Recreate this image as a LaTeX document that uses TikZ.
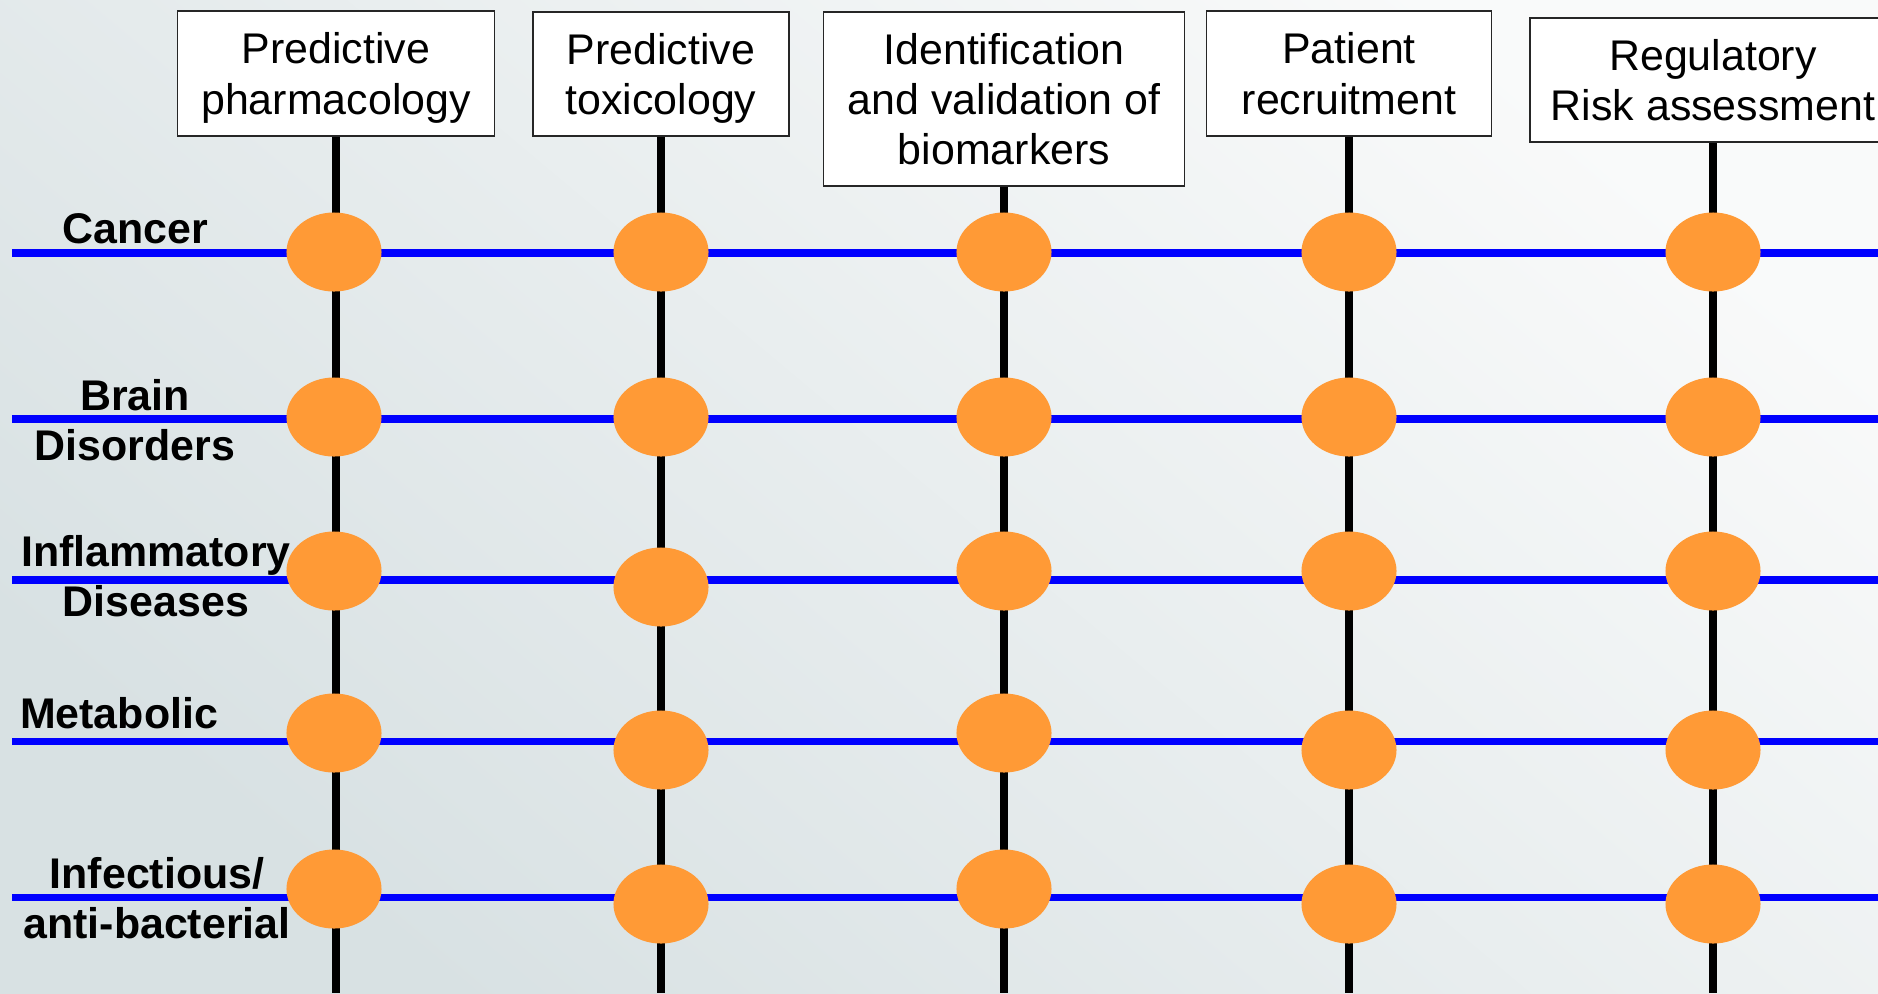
\documentclass[tikz,border=0pt]{standalone}
\usepackage{fontspec}
\setmainfont{Liberation Sans}
\usetikzlibrary{shapes.geometric}

\definecolor{dotorange}{HTML}{FF9A36}
\definecolor{bgdark}{HTML}{D8E1E3}
\definecolor{bglight}{HTML}{F9FAFA}

\tikzstyle{stage} = [rectangle, draw = black!85, line width = 0.5pt, fill = white, align = center, inner sep = 0pt, text depth = 0pt, font = \fontsize{12.2}{14.3}\selectfont]
\tikzstyle{disease} = [align = center, inner sep = 0pt, font = \bfseries\fontsize{12.2}{14.3}\selectfont]
\tikzstyle{dot} = [ellipse, fill = dotorange, minimum width = 0.95cm, minimum height = 0.79cm, inner sep = 0pt]
\tikzstyle{stemline} = [line width = 2.1pt, black]
\tikzstyle{rowline} = [line width = 2pt, blue]

\begin{document}
\begin{tikzpicture}[x=0.01cm, y=-0.01cm]
	\shade[top color = bglight, bottom color = bgdark, shading angle = -40] (0,0) rectangle (1878,993);
	\useasboundingbox (0,0) rectangle (1878,993);
	\clip (0,0) rectangle (1878,993);

	% stages along the top
	\node (pharm) [stage, minimum width = 3.17cm, minimum height = 1.25cm] at (336,73.5) {Predictive\\pharmacology};
	\node (tox) [stage, minimum width = 2.56cm, minimum height = 1.24cm] at (661,74) {Predictive\\toxicology};
	\node (biom) [stage, minimum width = 3.61cm, minimum height = 1.74cm] at (1004,99) {Identification\\and validation of\\biomarkers};
	\node (recruit) [stage, minimum width = 2.85cm, minimum height = 1.25cm] at (1349,73.5) {Patient\\recruitment};
	\node (regul) [stage, minimum width = 3.66cm, minimum height = 1.24cm] at (1713,80) {Regulatory\\Risk assessment};

	\coordinate (pharm-foot) at (336,993);
	\coordinate (tox-foot) at (661,993);
	\coordinate (biom-foot) at (1004,993);
	\coordinate (recruit-foot) at (1349,993);
	\coordinate (regul-foot) at (1713,993);

	\coordinate (cancer-start) at (12,253);
	\coordinate (cancer-end) at (1878,253);
	\coordinate (brain-start) at (12,419);
	\coordinate (brain-end) at (1878,419);
	\coordinate (inflam-start) at (12,580);
	\coordinate (inflam-end) at (1878,580);
	\coordinate (metab-start) at (12,741);
	\coordinate (metab-end) at (1878,741);
	\coordinate (infect-start) at (12,897);
	\coordinate (infect-end) at (1878,897);

	\draw [stemline] (pharm) -- (pharm-foot);
	\draw [stemline] (tox) -- (tox-foot);
	\draw [stemline] (biom) -- (biom-foot);
	\draw [stemline] (recruit) -- (recruit-foot);
	\draw [stemline] (regul) -- (regul-foot);

	\draw [rowline] (cancer-start) -- (cancer-end);
	\draw [rowline] (brain-start) -- (brain-end);
	\draw [rowline] (inflam-start) -- (inflam-end);
	\draw [rowline] (metab-start) -- (metab-end);
	\draw [rowline] (infect-start) -- (infect-end);

	% crossings
	\node (d11) [dot] at (334,252) {};
	\node (d12) [dot] at (661,252) {};
	\node (d13) [dot] at (1004,252) {};
	\node (d14) [dot] at (1349,252) {};
	\node (d15) [dot] at (1713,252) {};
	\node (d21) [dot] at (334,417) {};
	\node (d22) [dot] at (661,417) {};
	\node (d23) [dot] at (1004,417) {};
	\node (d24) [dot] at (1349,417) {};
	\node (d25) [dot] at (1713,417) {};
	\node (d31) [dot] at (334,571) {};
	\node (d32) [dot] at (661,587) {};
	\node (d33) [dot] at (1004,571) {};
	\node (d34) [dot] at (1349,571) {};
	\node (d35) [dot] at (1713,571) {};
	\node (d41) [dot] at (334,733) {};
	\node (d42) [dot] at (661,750) {};
	\node (d43) [dot] at (1004,733) {};
	\node (d44) [dot] at (1349,750) {};
	\node (d45) [dot] at (1713,750) {};
	\node (d51) [dot] at (334,889) {};
	\node (d52) [dot] at (661,904) {};
	\node (d53) [dot] at (1004,889) {};
	\node (d54) [dot] at (1349,904) {};
	\node (d55) [dot] at (1713,904) {};

	% diseases on the left
	\node (cancer) [disease] at (135,228.5) {Cancer};
	\node (brain) [disease] at (135,420.5) {Brain\\Disorders};
	\node (inflam) [disease] at (156,576) {Inflammatory\\Diseases};
	\node (metab) [disease] at (119,713) {Metabolic};
	\node (infect) [disease] at (157,898) {Infectious/\\anti-bacterial};
\end{tikzpicture}
\end{document}
